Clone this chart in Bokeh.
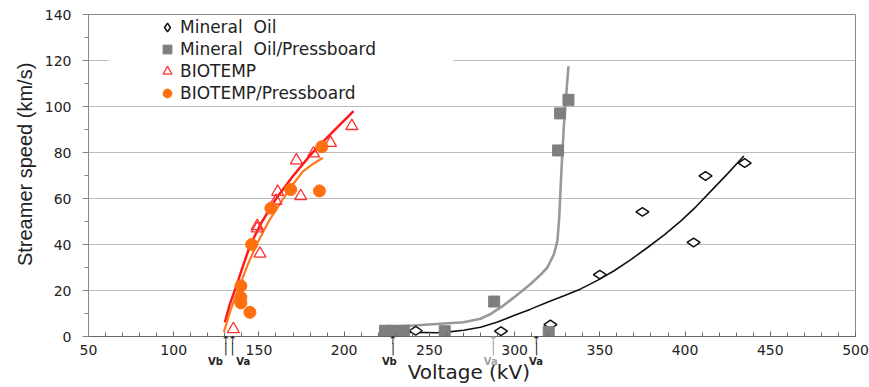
from bokeh.plotting import figure
from bokeh.models import (Range1d, Legend, LegendItem, BoxAnnotation,
                          FixedTicker, LinearAxis)
from bokeh.embed import file_html
from bokeh.resources import INLINE

# ---- data ----
mo_v = [242, 292, 321, 350, 375, 405, 412, 435]
mo_s = [2.5, 2.3, 5.2, 26.9, 54.2, 40.9, 69.8, 75.4]

mop_v = [224, 229, 235, 259, 288, 320, 325.5, 326.7, 331.6]
mop_s = [2.5, 2.5, 2.5, 2.3, 15.2, 1.9, 80.9, 97.0, 102.9]

bt_v = [135, 149, 149, 150.6, 160, 161, 172, 174.5, 182, 192, 204.5]
bt_s = [3.2, 47, 48, 36, 59, 62.9, 76.6, 61, 79.6, 84.2, 91.5]

btp_v = [139.4, 139.4, 139.4, 144.7, 145.7, 157, 168.6, 185.5, 186.9]
btp_s = [14.6, 17, 22, 10.5, 40, 55.8, 63.9, 63.3, 82.5]

# trend lines
mo_fit_v = [230, 254.5, 260.4, 270, 280, 290, 299.6, 309.4, 319.2, 329, 338.8,
            348.6, 358.4, 368.2, 378, 387.8, 397.6, 406.5, 415.3, 425, 434.5]
mo_fit_s = [1.9, 1.6, 1.9, 2.7, 4.0, 6.3, 9.1, 11.9, 14.9, 17.7, 20.7,
            24.4, 28.6, 33.4, 38.7, 44.2, 50.3, 56.5, 63.3, 70.8, 78.5]

mop_fit_v = [221, 240.6, 270, 280, 286, 293, 299.6, 309.4, 316, 319.2, 323.1,
             325.1, 326.2, 326.9, 328, 329.2, 331.6]
mop_fit_s = [4.0, 4.8, 6.2, 7.7, 9.8, 13.2, 17, 22.8, 27.4, 30, 35.8,
             41.6, 52, 63.3, 80, 95, 117.5]

bt_fit_v = [130, 133, 136.5, 140.6, 145, 152, 160, 170, 181, 193, 205.5]
bt_fit_s = [6.2, 14.2, 21.4, 30.6, 40, 50.2, 59.9, 69.8, 79.6, 88.7, 98]

btp_fit_v = [129.4, 133.5, 138.4, 143.2, 148.6, 156, 164.3, 170, 176, 181.5, 187.5]
btp_fit_s = [1.9, 11.8, 21.4, 30.8, 40, 50.4, 60, 66.2, 71.9, 74.9, 77.7]

# threshold voltages marked below the axis
thr_v = [130.6, 134.5, 228.6, 287.5, 312.8]
thr_lab = ["Vb", "Va", "Vb", "Va", "Va"]
thr_lab_v = [124.5, 140.8, 226.5, 286.0, 312.5]
thr_gray = [False, False, False, True, False]

y_ticks = [0, 20, 40, 60, 80, 100, 120, 140]
x_ticks = [50, 100, 150, 200, 250, 300, 350, 400, 450, 500]

FONT = "DejaVu Sans"

p = figure(width=869, height=387, output_backend="svg", toolbar_location=None,
           x_range=Range1d(50, 500), y_range=Range1d(0, 140),
           min_border_left=88, min_border_right=14, min_border_top=14,
           min_border_bottom=51)

p.outline_line_color = "#888888"
p.outline_line_width = 1
p.xgrid.visible = False
p.ygrid.grid_line_color = "#bbbbbb"
p.ygrid.grid_line_width = 1

# x axis
p.xaxis.ticker = FixedTicker(ticks=x_ticks, minor_ticks=list(range(50, 501, 10)))
p.xaxis.axis_label = "Voltage  (kV)"
p.xaxis.axis_label_text_font = FONT
p.xaxis.axis_label_text_font_size = "20px"
p.xaxis.axis_label_text_font_style = "normal"
p.xaxis.axis_label_text_color = "#222222"
p.xaxis.axis_label_standoff = 2
p.xaxis.major_label_text_font = FONT
p.xaxis.major_label_text_font_size = "14px"
p.xaxis.major_label_text_color = "#222222"
p.xaxis.major_label_standoff = 8
p.xaxis.major_tick_in = 5
p.xaxis.major_tick_out = 0
p.xaxis.minor_tick_in = 4
p.xaxis.minor_tick_out = 0
p.xaxis.axis_line_color = "#666666"
p.xaxis.major_tick_line_color = "#666666"
p.xaxis.minor_tick_line_color = "#666666"

# y axis
p.yaxis.ticker = FixedTicker(ticks=y_ticks, minor_ticks=list(range(0, 141, 10)))
p.yaxis.axis_label = "\u00a0" * 5 + "Streamer speed  (km/s)"
p.yaxis.axis_label_text_font = "Liberation Sans"
p.yaxis.axis_label_text_font_size = "20px"
p.yaxis.axis_label_text_font_style = "normal"
p.yaxis.axis_label_text_color = "#222222"
p.yaxis.axis_label_standoff = 6
p.yaxis.major_label_text_font = FONT
p.yaxis.major_label_text_font_size = "14px"
p.yaxis.major_label_text_color = "#222222"
p.yaxis.major_label_standoff = 11
p.yaxis.major_tick_in = 0
p.yaxis.major_tick_out = 6
p.yaxis.minor_tick_in = 0
p.yaxis.minor_tick_out = 4
p.yaxis.axis_line_color = "#888888"
p.yaxis.major_tick_line_color = "#888888"
p.yaxis.minor_tick_line_color = "#888888"

# white patch behind legend (hides part of the 120 gridline)
p.add_layout(BoxAnnotation(left=61.7, right=264.2, bottom=112, top=128,
                           fill_color="white", fill_alpha=1.0, line_alpha=0,
                           level="underlay"))

# trend lines
p.line(mo_fit_v, mo_fit_s, line_color="#111111", line_width=1.6)
p.line(mop_fit_v, mop_fit_s, line_color="#999999", line_width=2.6)
p.line(bt_fit_v, bt_fit_s, line_color="#ff1a1a", line_width=2.5)
p.line(btp_fit_v, btp_fit_s, line_color="#ff7a1a", line_width=2.2)

# markers
r_mo = p.scatter(mo_v, mo_s, marker="diamond", size=13, angle=1.5708,
                 fill_color="white", line_color="#111111", line_width=1.5)
r_mop = p.scatter(mop_v, mop_s, marker="square", size=11,
                  fill_color="#7f7f7f", line_color="#7f7f7f")
r_bt = p.scatter(bt_v, bt_s, marker="triangle", size=12,
                 fill_color="white", fill_alpha=0.0, line_color="#ff3030", line_width=1.3)
r_btp = p.scatter(btp_v, btp_s, marker="circle", size=12,
                  fill_color="#ff6f10", line_color="#ff6f10")


# threshold arrows and Vb / Va labels: extra bottom axes (after the main one)
# whose labels are pulled back up with a negative standoff
def thr_axis(ticks, labels, color, size, style, standoff):
    return LinearAxis(ticker=FixedTicker(ticks=ticks, minor_ticks=[]),
                      major_label_overrides={t: l for t, l in zip(ticks, labels)},
                      axis_line_alpha=0, major_tick_in=0, major_tick_out=0,
                      minor_tick_in=0, minor_tick_out=0,
                      major_label_standoff=standoff,
                      major_label_text_color=color,
                      major_label_text_font=FONT,
                      major_label_text_font_size=size,
                      major_label_text_font_style=style)


for gray in (False, True):
    col = "#a0a0a0" if gray else "#222222"
    arr = [v for v, g in zip(thr_v, thr_gray) if g == gray]
    labv = [v for v, g in zip(thr_lab_v, thr_gray) if g == gray]
    labt = [t for t, g in zip(thr_lab, thr_gray) if g == gray]
    p.add_layout(thr_axis(arr, ["|"] * len(arr), col, "12px", "normal", -45), "below")
    p.add_layout(thr_axis(arr, ["\u2191"] * len(arr), col, "11px", "normal", -53), "below")
    p.add_layout(thr_axis(labv, labt, col, "10px", "bold", -31), "below")

legend = Legend(items=[
    LegendItem(label="Mineral  Oil", renderers=[r_mo]),
    LegendItem(label="Mineral  Oil/Pressboard", renderers=[r_mop]),
    LegendItem(label="BIOTEMP", renderers=[r_bt]),
    LegendItem(label="BIOTEMP/Pressboard", renderers=[r_btp]),
], location=(66, 232), orientation="vertical")
legend.glyph_width = 26
legend.glyph_height = 22
legend.label_height = 22
legend.spacing = 0
legend.padding = 0
legend.margin = 0
legend.label_standoff = 0
legend.border_line_alpha = 0
legend.background_fill_alpha = 0
legend.label_text_font = FONT
legend.label_text_font_size = "17px"
legend.label_text_color = "#222222"
p.add_layout(legend)

open("out.html", "w").write(file_html(p, INLINE))
